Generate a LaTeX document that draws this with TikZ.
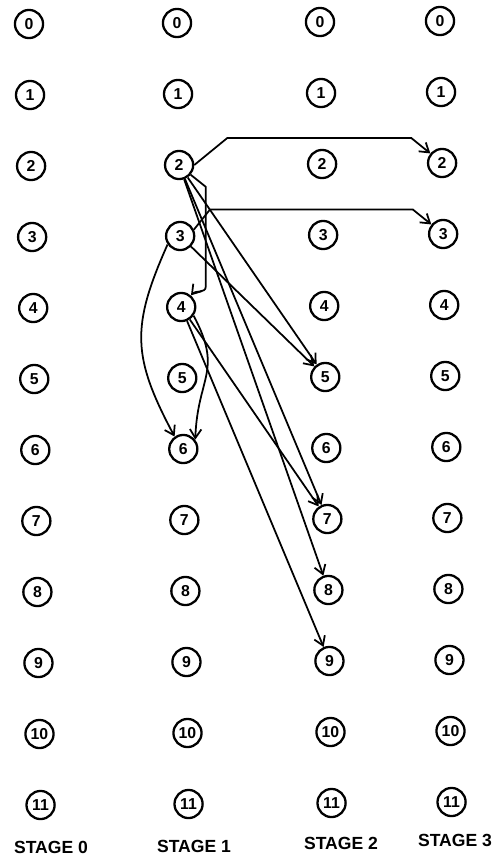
\documentclass[tikz,border=0pt]{standalone}
\usepackage{fontspec}
\setmainfont{Liberation Sans}
\usetikzlibrary{arrows.meta}

\begin{document}
\begin{tikzpicture}[
        x=0.02cm, y=0.02cm,
        >={Straight Barb[length=5pt, width=6.5pt]},
        state/.style={draw, circle, line width=1.3pt, minimum size=16pt, inner sep=0pt, font=\bfseries\small},
        stagelabel/.style={font=\bfseries},
        edge/.style={->, line width=1pt}
    ]
    \useasboundingbox (0,0) rectangle (497,-863);
    % the four columns of states (the scan leans a little)
    \foreach \c/\xc in {0/29, 1/177, 2/320, 3/440} {
        \foreach \r in {0,...,11} {
            \node[state] (s\c-\r) at ({\xc+1.05*\r}, {-24-71*\r+\c}) {\r};
        }
    }
    \node[stagelabel] (lab0) at (51,-847) {STAGE 0};
    \node[stagelabel] (lab1) at (194,-846) {STAGE 1};
    \node[stagelabel] (lab2) at (341,-843) {STAGE 2};
    \node[stagelabel] (lab3) at (455,-840) {STAGE 3};
    % moves out of stage 1
    \draw[edge] (s1-2.east) -- ++(33,27) -- ++(184,0) -- (s3-2);
    \draw[edge] (s1-3.25) -- ++(16,20) -- ++(203,0) -- (s3-3);
    \draw[edge] (s1-2.-40) -- ++(15,-12) -- ++(0,-100) to[out=-90, in=50] (s1-4);
    \draw[edge] (s1-2) -- (s2-5);
    \draw[edge] (s1-2) -- (s2-7);
    \draw[edge] (s1-2) -- (s2-8);
    \draw[edge] (s1-3) -- (s2-5);
    \draw[edge] (s1-3.214) to[out=246, in=118, looseness=1.2] (s1-6.125);
    \draw[edge] (s1-4.-35) to[out=-62, in=88, looseness=1.3] (s1-6.38);
    \draw[edge] (s1-4) -- (s2-7);
    \draw[edge] (s1-4) -- (s2-9);
\end{tikzpicture}
\end{document}
